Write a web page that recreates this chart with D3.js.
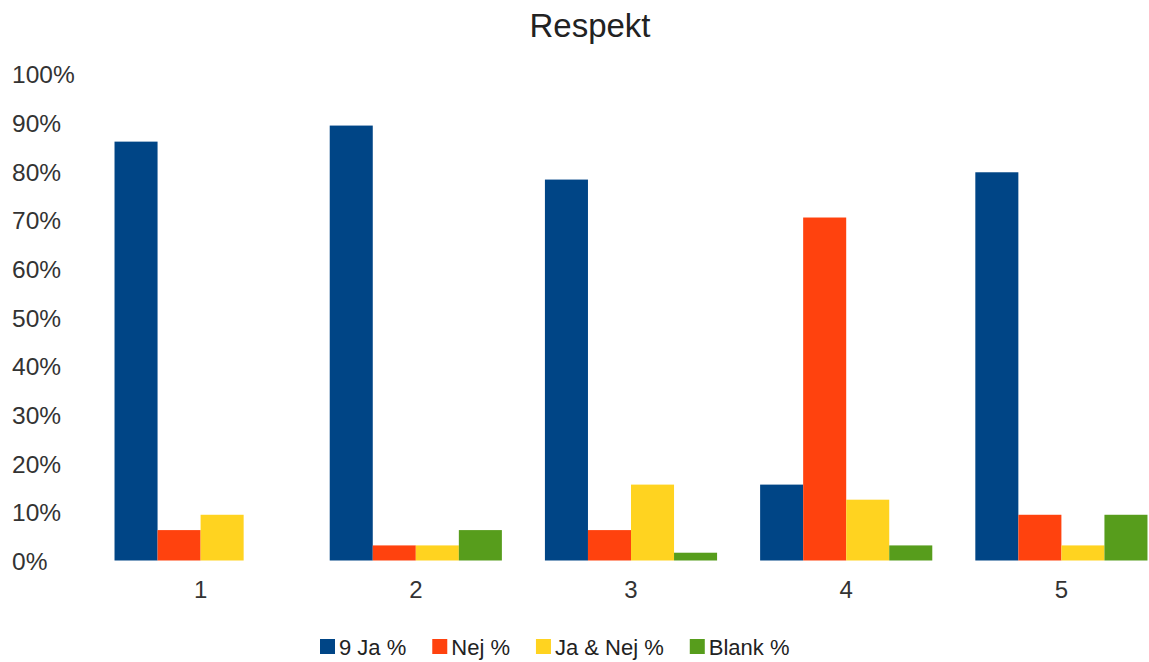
<!DOCTYPE html>
<html>
<head>
<meta charset="utf-8">
<script src="https://cdn.jsdelivr.net/npm/d3@7"></script>
<style>
  body { margin: 0; background: #fff; }
  svg { display: block; font-family: "Liberation Sans", Arial, sans-serif; }
</style>
</head>
<body>
<div id="chart"></div>
<script>
// chart data
const categories = ["1", "2", "3", "4", "5"];
const seriesNames = ["9 Ja %", "Nej %", "Ja & Nej %", "Blank %"];
const jaValues = [86.1, 89.4, 78.3, 15.6, 79.8];
const nejValues = [6.25, 3.1, 6.25, 70.5, 9.4];
const jaNejValues = [9.4, 3.1, 15.6, 12.5, 3.1];
const blankValues = [0, 6.25, 1.6, 3.1, 9.4];
const yTicks = [0, 10, 20, 30, 40, 50, 60, 70, 80, 90, 100];
const colors = ["#004586", "#ff420e", "#ffd320", "#579d1c"];

const seriesValues = [jaValues, nejValues, jaNejValues, blankValues];

const width = 1149;
const height = 662;

const svg = d3.select("#chart")
  .append("svg")
  .attr("width", width)
  .attr("height", height);

// scales
const x0 = d3.scaleBand()
  .domain(categories)
  .range([93, 1169])
  .paddingInner(0.2)
  .paddingOuter(0.1);

const x1 = d3.scaleBand()
  .domain(seriesNames)
  .range([0, x0.bandwidth()]);

const y = d3.scaleLinear()
  .domain([0, 100])
  .range([560.5, 74]);

// title
svg.append("text")
  .attr("x", 590)
  .attr("y", 37)
  .attr("text-anchor", "middle")
  .attr("font-size", 33)
  .attr("fill", "#222")
  .text("Respekt");

// y axis labels (left aligned, no lines)
const yAxis = d3.axisLeft(y)
  .tickValues(yTicks)
  .tickFormat(d => d + "%")
  .tickSize(0);

const yg = svg.append("g")
  .call(yAxis);
yg.select(".domain").remove();
yg.selectAll("text")
  .attr("x", 12)
  .attr("text-anchor", "start")
  .attr("dy", "0.36em")
  .attr("font-size", 24.5)
  .attr("font-family", "Liberation Sans, Arial, sans-serif")
  .attr("fill", "#333");

// x axis labels
const xAxis = d3.axisBottom(x0).tickSize(0);
const xg = svg.append("g")
  .attr("transform", "translate(0,560)")
  .call(xAxis);
xg.select(".domain").remove();
xg.selectAll("text")
  .attr("y", 38)
  .attr("dy", 0)
  .attr("font-size", 24)
  .attr("font-family", "Liberation Sans, Arial, sans-serif")
  .attr("fill", "#333");

// bars
const groups = svg.append("g")
  .selectAll("g")
  .data(categories)
  .join("g")
  .attr("transform", d => `translate(${x0(d)},0)`);

groups.selectAll("rect")
  .data((d, i) => seriesNames.map((s, j) => ({ series: s, value: seriesValues[j][i], color: colors[j] })))
  .join("rect")
  .attr("x", d => x1(d.series))
  .attr("y", d => y(d.value))
  .attr("width", x1.bandwidth())
  .attr("height", d => y(0) - y(d.value))
  .attr("fill", d => d.color);

// legend
const legend = svg.append("g").attr("transform", "translate(320,0)");
let lx = 0;
seriesNames.forEach((name, i) => {
  const item = legend.append("g").attr("transform", `translate(${lx},0)`);
  item.append("rect")
    .attr("x", 0)
    .attr("y", 639)
    .attr("width", 15)
    .attr("height", 15)
    .attr("fill", colors[i]);
  const t = item.append("text")
    .attr("x", 19)
    .attr("y", 655)
    .attr("font-size", 22)
    .attr("fill", "#222")
    .text(name);
  lx += 19 + t.node().getComputedTextLength() + 26;
});
</script>
</body>
</html>
